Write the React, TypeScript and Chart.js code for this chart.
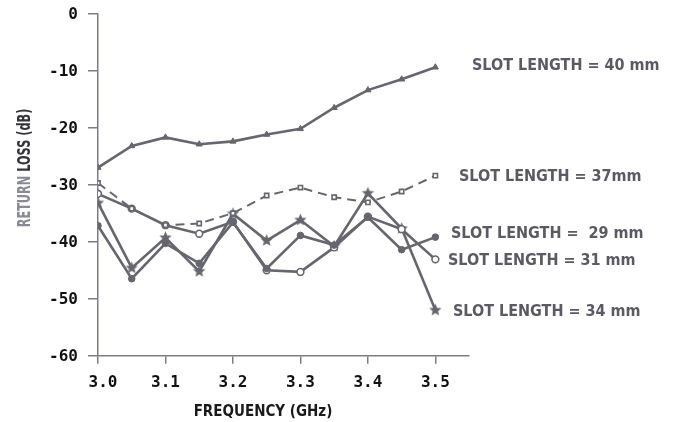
import React, { useEffect, useRef } from "react";
import { Chart, registerables } from "chart.js";

Chart.register(...registerables);

// ---- data ----
const FREQ = [3.0, 3.05, 3.1, 3.15, 3.2, 3.25, 3.3, 3.35, 3.4, 3.45, 3.5];
const RL_40 = [-27.0, -23.2, -21.7, -22.9, -22.4, -21.2, -20.2, -16.5, -13.4, -11.5, -9.4];
const RL_37 = [-29.7, -34.2, -37.1, -36.8, -35.0, -31.9, -30.5, -32.2, -33.1, -31.2, -28.4];
const RL_29 = [-37.2, -46.5, -40.3, -43.8, -36.6, -44.7, -38.9, -40.6, -35.7, -41.4, -39.2];
const RL_31 = [-31.6, -34.2, -37.1, -38.6, -36.5, -45.0, -45.3, -41.0, -35.6, -37.8, -43.1];
const RL_34 = [-33.2, -44.6, -39.3, -45.2, -35.1, -39.8, -36.2, -40.8, -31.5, -37.7, -52.0];
const SERIES_LABELS = [
  "SLOT LENGTH = 40 mm",
  "SLOT LENGTH = 37mm",
  "SLOT LENGTH =  29 mm",
  "SLOT LENGTH = 31 mm",
  "SLOT LENGTH = 34 mm",
];
const X_TICKS = [3.0, 3.1, 3.2, 3.3, 3.4, 3.5];
const Y_TICKS = [-60, -50, -40, -30, -20, -10, 0];
const X_TITLE = "FREQUENCY (GHz)";
const Y_TITLE_A = "RETURN ";
const Y_TITLE_B = "LOSS (dB)";

// ---- styles ----
const LINE = "#66666f";
const AXIS = "#7c7c86";
const LABEL_COLOR = "#5a5a64";
const LABEL_X = [472, 459, 451, 448, 453];
const LABEL_DY = [-1.5, 1.5, -3, 1.5, 1.5];
const LABEL_FONT = "bold 16px 'DejaVu Sans Condensed', 'DejaVu Sans', sans-serif";
const TICK_FONT = "bold 16px 'DejaVu Sans Mono', monospace";
const TITLE_FONT = "bold 15px 'DejaVu Sans Condensed', 'DejaVu Sans', sans-serif";
const Y_TITLE_FONT = "bold 17px 'DejaVu Sans Condensed', 'DejaVu Sans', sans-serif";

function makeStar(r: number, color: string): HTMLCanvasElement {
  const size = Math.ceil(r * 2 + 2);
  const c = document.createElement("canvas");
  c.width = size;
  c.height = size;
  const ctx = c.getContext("2d")!;
  const cx = size / 2;
  const cy = size / 2;
  ctx.beginPath();
  for (let i = 0; i < 10; i++) {
    const rad = i % 2 === 0 ? r : r * 0.45;
    const a = -Math.PI / 2 + (i * Math.PI) / 5;
    const px = cx + rad * Math.cos(a);
    const py = cy + rad * Math.sin(a);
    if (i === 0) ctx.moveTo(px, py);
    else ctx.lineTo(px, py);
  }
  ctx.closePath();
  ctx.fillStyle = color;
  ctx.fill();
  return c;
}

const pts = (arr: number[]) => FREQ.map((x, i) => ({ x, y: arr[i] }));

const textPlugin = {
  id: "textPlugin",
  afterDraw(chart: any) {
    const ctx = chart.ctx as CanvasRenderingContext2D;
    const xs = chart.scales.x;
    const ys = chart.scales.y;
    ctx.save();
    // tick labels
    ctx.font = TICK_FONT;
    ctx.fillStyle = "#111111";
    ctx.textBaseline = "middle";
    ctx.textAlign = "right";
    Y_TICKS.forEach((v) => {
      ctx.fillText(String(v), 78, ys.getPixelForValue(v) + 1.5);
    });
    ctx.textAlign = "center";
    X_TICKS.forEach((v, i) => {
      const shift = i === 0 ? 5 : 0;
      ctx.fillText(v.toFixed(1), xs.getPixelForValue(v) + shift, 383);
    });
    // series labels
    ctx.font = LABEL_FONT;
    ctx.fillStyle = LABEL_COLOR;
    ctx.textAlign = "left";
    SERIES_LABELS.forEach((t, i) => {
      const meta = chart.getDatasetMeta(i);
      const last = meta.data[meta.data.length - 1];
      ctx.fillText(t, LABEL_X[i], last.y + LABEL_DY[i]);
    });
    // x title
    ctx.font = TITLE_FONT;
    ctx.fillStyle = "#1a1a1a";
    ctx.textAlign = "center";
    ctx.fillText(X_TITLE, 263, 412);
    // y title
    ctx.font = Y_TITLE_FONT;
    ctx.translate(26, 168);
    ctx.rotate(-Math.PI / 2);
    ctx.scale(0.74, 1);
    ctx.textAlign = "left";
    const wa = ctx.measureText(Y_TITLE_A).width;
    const wb = ctx.measureText(Y_TITLE_B).width;
    const start = -(wa + wb) / 2;
    ctx.fillStyle = "#8a8a96";
    ctx.fillText(Y_TITLE_A, start, 0);
    ctx.fillStyle = "#33333a";
    ctx.fillText(Y_TITLE_B, start + wa, 0);
    ctx.restore();
  },
};

export default function App() {
  const ref = useRef<HTMLCanvasElement | null>(null);
  useEffect(() => {
    if (!ref.current) return;
    const star = makeStar(6.5, LINE);
    const base = {
      borderColor: LINE,
      borderWidth: 2.6,
      pointBorderColor: LINE,
      tension: 0,
      fill: false,
    };
    const chart = new Chart(ref.current, {
      type: "line",
      data: {
        datasets: [
          {
            ...base,
            label: SERIES_LABELS[0],
            data: pts(RL_40),
            pointStyle: "triangle",
            pointRadius: 3.5,
            pointBackgroundColor: LINE,
            pointBorderWidth: 1,
          },
          {
            ...base,
            label: SERIES_LABELS[1],
            data: pts(RL_37),
            borderDash: [9, 6],
            borderWidth: 2,
            pointStyle: "rect",
            pointRadius: 3,
            pointBackgroundColor: "#ffffff",
            pointBorderWidth: 1.6,
          },
          {
            ...base,
            label: SERIES_LABELS[2],
            data: pts(RL_29),
            pointStyle: "circle",
            pointRadius: 3.3,
            pointBackgroundColor: LINE,
            pointBorderWidth: 1,
          },
          {
            ...base,
            label: SERIES_LABELS[3],
            data: pts(RL_31),
            pointStyle: "circle",
            pointRadius: 3.4,
            pointBackgroundColor: "#ffffff",
            pointBorderWidth: 1.6,
          },
          {
            ...base,
            label: SERIES_LABELS[4],
            data: pts(RL_34),
            pointStyle: star as any,
            pointRadius: 6.5,
            pointBackgroundColor: LINE,
          },
        ] as any,
      },
      options: {
        animation: false,
        responsive: false,
        devicePixelRatio: 1,
        layout: { padding: { left: 0, top: 13.7, right: 204.9, bottom: 0 } },
        plugins: { legend: { display: false }, tooltip: { enabled: false } },
        scales: {
          x: {
            type: "linear",
            min: 3.0,
            max: 3.55,
            afterBuildTicks: (s: any) => {
              s.ticks = X_TICKS.map((v) => ({ value: v }));
            },
            afterFit: (s: any) => {
              s.height = 66.3;
            },
            ticks: { display: false },
            grid: {
              display: true,
              drawOnChartArea: false,
              drawTicks: true,
              tickLength: 8,
              color: AXIS,
              lineWidth: 1.5,
            },
            border: { display: true, color: AXIS, width: 1.5 },
          },
          y: {
            type: "linear",
            min: -60,
            max: 0,
            afterBuildTicks: (s: any) => {
              s.ticks = Y_TICKS.map((v) => ({ value: v }));
            },
            afterFit: (s: any) => {
              s.width = 98;
            },
            ticks: { display: false },
            grid: {
              display: true,
              drawOnChartArea: false,
              drawTicks: true,
              tickLength: 10,
              color: AXIS,
              lineWidth: 1.5,
            },
            border: { display: true, color: AXIS, width: 1.5 },
          },
        },
      } as any,
      plugins: [textPlugin],
    });
    return () => chart.destroy();
  }, []);
  return (
    <div style={{ position: "fixed", left: 0, top: 0, width: 674, height: 422, background: "#fff" }}>
      <canvas ref={ref} width={674} height={422} style={{ display: "block" }} />
    </div>
  );
}
